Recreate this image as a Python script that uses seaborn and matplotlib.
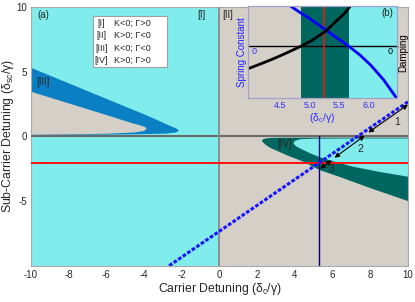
import matplotlib
matplotlib.use("Agg")
import matplotlib.pyplot as plt
import matplotlib.transforms as mtransforms
from matplotlib.patches import Rectangle
import numpy as np
import seaborn as sns

# region colours: [I] K<0,G>0  [II] K>0,G<0  [III] K<0,G<0  [IV] K>0,G>0
CYAN = "#80ECEC"
GREY = "#D4D0C8"
BLUE = "#0A7FC3"
TEAL = "#006660"

# region [III] (upper left), outer edge
iii_top_x = [-10, -8, -6, -4, -3.3, -3.0, -2.6, -2.3, -2.15]
iii_top_y = [5.3, 4.1, 2.9, 1.7, 1.26, 1.05, 0.8, 0.62, 0.45]
iii_bot_x = [-2.15, -2.3, -2.8, -4, -6, -8, -10]
iii_bot_y = [0.45, 0.3, 0.22, 0.17, 0.13, 0.11, 0.1]
# region [II] pocket inside [III]
ii_top_x = [-10, -8, -6, -4.6, -4.2, -3.95, -3.86]
ii_top_y = [3.45, 2.55, 1.65, 1.0, 0.85, 0.72, 0.6]
ii_bot_x = [-3.86, -4.0, -4.5, -6, -8, -10]
ii_bot_y = [0.6, 0.42, 0.3, 0.2, 0.15, 0.12]

# region [IV] (lower right)
iv_top_x = [2.24, 2.35, 2.6, 3, 4, 6, 8, 10]
iv_top_y = [-0.34, -0.2, -0.13, -0.11, -0.1, -0.1, -0.1, -0.1]
iv_bot_x = [2.24, 2.4, 2.68, 3.56, 4.45, 5.3, 6.5, 8, 10]
iv_bot_y = [-0.34, -0.6, -0.88, -1.45, -1.96, -2.6, -3.2, -4.0, -5.0]
# region [I] pocket inside [IV]
i_top_x = [3.92, 4.0, 4.3, 5, 6, 8, 10]
i_top_y = [-0.54, -0.35, -0.22, -0.18, -0.17, -0.16, -0.16]
i_bot_x = [3.92, 4.05, 4.27, 4.8, 5.33, 6.2, 7.1, 8.5, 10]
i_bot_y = [-0.54, -0.75, -0.93, -1.3, -1.62, -2.0, -2.35, -2.75, -3.12]

# operating point and scan line
red_y = -2.06
navy_x = 5.27
scan_x = [-2.67, 10]
scan_y = [-10, 2.67]

# double arrows along the scan line and their labels
arrow_start = [(10.0, 2.45), (7.7, 0.05), (5.95, -1.85)]
arrow_end = [(7.9, 0.3), (6.1, -1.65), (5.35, -2.5)]
arrow_text = ["1", "2", "3"]
arrow_text_xy = [(9.4, 1.1), (7.45, -1.0), (5.95, -2.55)]

# legend table
legend_keys = ["[I]", "[II]", "[III]", "[IV]"]
legend_vals = ["K<0; \u0393>0", "K>0; \u0393<0", "K<0; \u0393<0", "K>0; \u0393>0"]
legend_rows_y = [8.75, 7.8, 6.82, 5.85]

# inset (b): cut along the red line
band_lo, band_hi = 4.86, 5.66
inset_red_x = 5.25
spring_x = [4.68, 4.85, 5.0, 5.27, 5.45, 5.66, 5.85, 6.03, 6.25, 6.47]
spring_y = [1.0, 0.83, 0.69, 0.41, 0.22, 0.0, -0.22, -0.47, -0.84, -1.3]
damp_x = [3.97, 4.2, 4.4, 4.6, 4.86, 5.05, 5.28, 5.47, 5.6, 5.69]
damp_y = [-0.56, -0.43, -0.31, -0.18, 0.0, 0.15, 0.38, 0.65, 0.83, 1.0]

sns.set_theme(style="white")
plt.rcParams["font.family"] = ["Liberation Sans", "DejaVu Sans"]
plt.rcParams["mathtext.fontset"] = "custom"
plt.rcParams["mathtext.rm"] = "Liberation Sans"
plt.rcParams["mathtext.it"] = "Liberation Sans"
plt.rcParams["axes.unicode_minus"] = False

fig = plt.figure(figsize=(4.15, 3.02), dpi=100)
ax = fig.add_axes([0.0747, 0.1202, 0.9084, 0.8566])

# background halves
ax.axvspan(-10, 0, color=CYAN, lw=0, zorder=0)
ax.axvspan(0, 10, color=GREY, lw=0, zorder=0)
ax.fill(iii_top_x + iii_bot_x, iii_top_y + iii_bot_y, color=BLUE, lw=0, zorder=1)
ax.fill(ii_top_x + ii_bot_x, ii_top_y + ii_bot_y, color=GREY, lw=0, zorder=2)
ax.fill(iv_top_x + iv_bot_x[::-1], iv_top_y + iv_bot_y[::-1], color=TEAL, lw=0, zorder=1)
ax.fill(i_top_x + i_bot_x[::-1], i_top_y + i_bot_y[::-1], color=CYAN, lw=0, zorder=2)

ax.axhline(0, color="#6A6A6A", lw=1.5, zorder=3)
ax.axvline(0, color="#8A8A8A", lw=1.3, zorder=3)
ax.axhline(red_y, color="#FF1010", lw=1.4, zorder=4)
ax.plot([navy_x, navy_x], [-10, 0], color="#000080", lw=1.0, zorder=4)
sns.lineplot(x=scan_x, y=scan_y, ax=ax, color="#1414FF", lw=2.2,
             linestyle=(0, (1.2, 0.6)), zorder=5)

for s, e in zip(arrow_start, arrow_end):
    ax.annotate("", xy=e, xytext=s, zorder=6,
                arrowprops=dict(arrowstyle="<|-|>", color="black", lw=0.8,
                                mutation_scale=7, shrinkA=0, shrinkB=0))
for t, (tx, ty) in zip(arrow_text, arrow_text_xy):
    ax.text(tx, ty, t, fontsize=7.5, ha="center", va="center", zorder=6)

# legend table
ax.add_patch(Rectangle((-6.7, 5.35), 3.9, 3.95, facecolor="white",
                       edgecolor="#A0A0A0", lw=0.8, zorder=6))
for k, v, ry in zip(legend_keys, legend_vals, legend_rows_y):
    ax.text(-6.26, ry, k, fontsize=6.5, ha="center", va="center", zorder=7)
    ax.text(-5.58, ry, v, fontsize=6.5, ha="left", va="center", zorder=7)

ax.text(-9.67, 9.38, "(a)", fontsize=7, ha="left", va="center", zorder=7)
ax.text(-0.98, 9.38, "[I]", fontsize=7, ha="center", va="center", zorder=7)
ax.text(0.42, 9.38, "[II]", fontsize=7, ha="center", va="center", zorder=7)
ax.text(-9.36, 4.22, "[III]", fontsize=7, ha="center", va="center", zorder=7)
ax.text(3.47, -0.6, "[IV]", fontsize=7, ha="center", va="center", zorder=7)

ax.set_xlim(-10, 10)
ax.set_ylim(-10, 10)
ax.set_xticks(np.arange(-10, 11, 2))
ax.set_yticks([-5, 0, 5, 10])
ax.tick_params(length=0, pad=3, labelsize=7)
ax.set_xlabel("Carrier Detuning (\u03b4$_\\mathrm{c}$/\u03b3)", fontsize=8.8, labelpad=1)
ax.set_ylabel("Sub-Carrier Detuning (\u03b4$_\\mathrm{sc}$/\u03b3)", fontsize=8.8)
ax.yaxis.set_label_coords(-0.04, 0.5)
for sp in ax.spines.values():
    sp.set_color("#A8A8A8")
    sp.set_linewidth(0.8)

# inset (b)
ins = fig.add_axes([0.5983, 0.6745, 0.3576, 0.3056])
ins.axvspan(3.97, band_lo, color=GREY, lw=0)
ins.axvspan(band_lo, band_hi, color=TEAL, lw=0)
ins.axvspan(band_hi, 6.47, color=CYAN, lw=0)
ins.axhline(0, color="black", lw=1.0)
ins.axvline(inset_red_x, color="#FF1010", lw=1.1)
sns.lineplot(x=spring_x, y=spring_y, ax=ins, color="#0000FF", lw=2.0, sort=False)
ins.set_xlim(3.97, 6.47)
ins.set_ylim(-1.3, 1.0)
ins.set_xticks([4.5, 5.0, 5.5, 6.0])
ins.set_xticklabels(["4.5", "5.0", "5.5", "6.0"])
ins.set_yticks([])
ins.tick_params(axis="x", length=0, pad=2, labelsize=6.5, labelcolor="#3030FF")
ins.set_xlabel("(\u03b4$_\\mathrm{c}$/\u03b3)", fontsize=7.5, color="#3030FF", labelpad=1)
ins.set_ylabel("Spring Constant", fontsize=7, color="#2020FF", labelpad=1)

twin = ins.twinx()
sns.lineplot(x=damp_x, y=damp_y, ax=twin, color="black", lw=2.0, sort=False)
twin.set_ylim(-1.3, 1.0)
twin.set_yticks([])
twin.set_ylabel("Damping", fontsize=7, color="black", labelpad=1)

blend = mtransforms.blended_transform_factory(ins.transAxes, ins.transData)
ins.text(0.02, -0.02, "0", transform=blend, fontsize=6.5, color="#3030FF",
         ha="left", va="top")
ins.text(0.97, -0.02, "0", transform=blend, fontsize=6.5, color="black",
         ha="right", va="top")
ins.text(0.94, 0.92, "(b)", transform=ins.transAxes, fontsize=7,
         ha="center", va="center")
for a in (ins, twin):
    for sp in a.spines.values():
        sp.set_color("#A0A0C8")
        sp.set_linewidth(0.8)

fig.savefig("out.png", dpi=100)
